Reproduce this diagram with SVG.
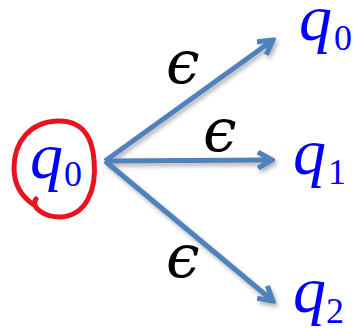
<svg xmlns="http://www.w3.org/2000/svg" width="355" height="328" viewBox="0 0 355 328">
<style>
.q{font-family:"Liberation Serif","DejaVu Serif",serif;font-style:italic;fill:#0000ff}
.s{font-family:"Liberation Serif","DejaVu Serif",serif;fill:#0000ff}
.e{font-family:"DejaVu Serif","Liberation Serif",serif;font-style:italic;fill:#000}
.edge{stroke:#4f81bd;stroke-width:5;fill:none;marker-end:url(#ah)}
</style>
<defs>
<marker id="ah" markerUnits="userSpaceOnUse" viewBox="0 0 20 20" refX="17" refY="10" markerWidth="20" markerHeight="20" orient="auto">
<path d="M3,2 L17,10 L3,18" fill="none" stroke="#4f81bd" stroke-width="5" stroke-linejoin="miter"/>
</marker>
<filter id="sh" x="-10%" y="-10%" width="130%" height="130%">
<feDropShadow dx="2" dy="3" stdDeviation="2" flood-color="#000" flood-opacity="0.3"/>
</filter>
</defs>
<g id="connectors" filter="url(#sh)">
<line class="edge" x1="105" y1="161" x2="273" y2="40"/>
<line class="edge" x1="105" y1="161" x2="272" y2="160"/>
<line class="edge" x1="105" y1="161" x2="273" y2="301"/>
</g>
<g id="labels">
<text class="e" x="166" y="83" font-size="60">ϵ</text>
<text class="e" x="203" y="151" font-size="60">ϵ</text>
<text class="e" x="166" y="277" font-size="60">ϵ</text>
</g>
<g id="start">
<path d="M36 199 C30 207 44 217 60 217 C86 216 97 190 94 160 C92 132 78 120 57 121 C30 122 14 142 14 168 C14 186 22 197 34 205" fill="none" stroke="#e8131f" stroke-width="5" stroke-linecap="round"/>
<text class="q" x="30" y="178" font-size="66">q</text>
<text class="s" x="64" y="186" font-size="36">0</text>
</g>
<g id="q0">
<text class="q" x="299" y="40" font-size="66">q</text>
<text class="s" x="334" y="50" font-size="36">0</text>
</g>
<g id="q1">
<text class="q" x="293" y="174" font-size="66">q</text>
<text class="s" x="328" y="184" font-size="36">1</text>
</g>
<g id="q2">
<text class="q" x="293" y="312" font-size="66">q</text>
<text class="s" x="326" y="323" font-size="36">2</text>
</g>
</svg>
